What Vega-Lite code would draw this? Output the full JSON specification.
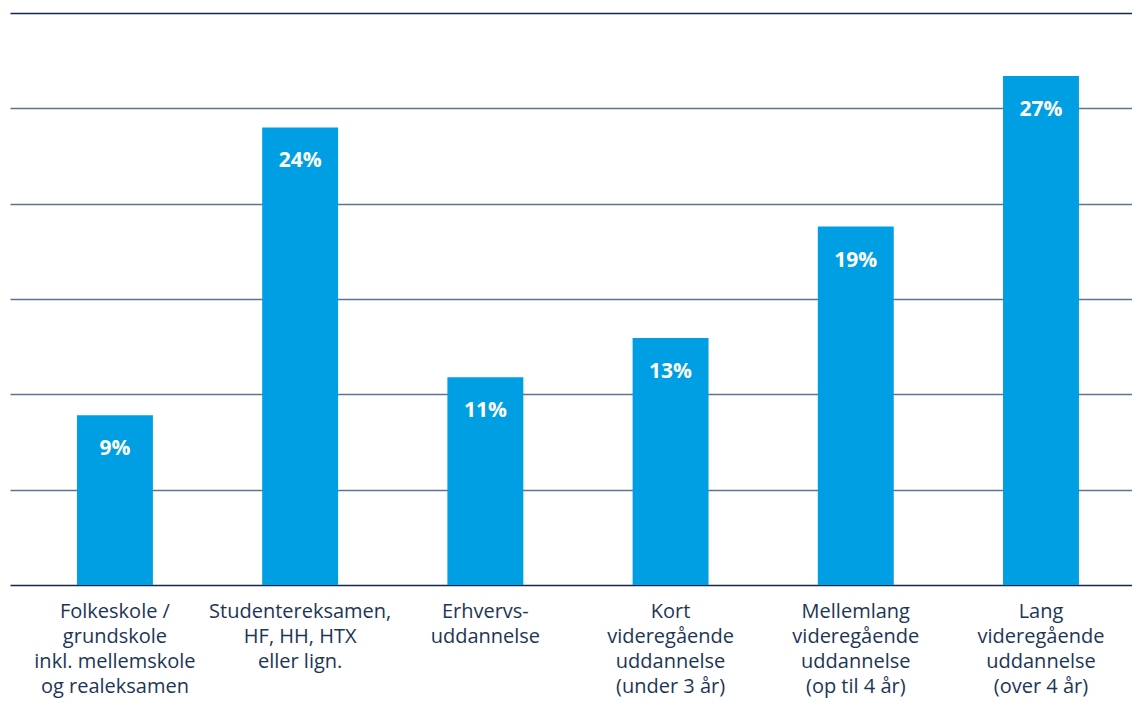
{
  "$schema": "https://vega.github.io/schema/vega-lite/v6.json",
  "autosize": {"type": "none"},
  "padding": {"left": 10, "top": 13, "right": 0, "bottom": 117},
  "width": 1122,
  "height": 572,
  "background": "white",
  "config": {"view": {"stroke": null}, "font": "Open Sans"},
  "data": {
    "values": [
      {"category": "Folkeskole /|grundskole|inkl. mellemskole|og realeksamen", "value": 8.9, "label": "9%"},
      {"category": "Studentereksamen,|HF, HH, HTX|eller lign.", "value": 24.0, "label": "24%"},
      {"category": "Erhvervs-|uddannelse", "value": 10.9, "label": "11%"},
      {"category": "Kort|videregående|uddannelse|(under 3 år)", "value": 12.95, "label": "13%"},
      {"category": "Mellemlang|videregående|uddannelse|(op til 4 år)", "value": 18.8, "label": "19%"},
      {"category": "Lang|videregående|uddannelse|(over 4 år)", "value": 26.7, "label": "27%"}
    ]
  },
  "encoding": {
    "x": {
      "field": "category",
      "type": "nominal",
      "sort": null,
      "scale": {"paddingInner": 0.59, "paddingOuter": 0.324, "align": 0.558},
      "axis": {
        "title": null,
        "domain": false,
        "ticks": false,
        "labelAngle": 0,
        "labelExpr": "split(datum.label, '|')",
        "labelFontSize": 20,
        "labelLineHeight": 25,
        "labelColor": "#1d3557",
        "labelPadding": 16,
        "labelBaseline": "top",
        "labelLimit": 0
      }
    },
    "y": {
      "field": "value",
      "type": "quantitative",
      "scale": {"domain": [0, 30]},
      "axis": {
        "title": null,
        "labels": false,
        "ticks": false,
        "domain": false,
        "values": [0, 5, 10, 15, 20, 25, 30],
        "grid": true,
        "gridColor": {"condition": {"test": "datum.value === 0 || datum.value === 30", "value": "#14284a"}, "value": "#5c7394"},
        "gridWidth": 1.3,
        "gridOpacity": 1
      }
    }
  },
  "layer": [
    {"mark": {"type": "bar", "color": "#009fe3"}},
    {
      "mark": {"type": "text", "color": "white", "fontSize": 21, "fontWeight": "bold", "baseline": "middle", "dy": 34},
      "encoding": {"text": {"field": "label"}}
    }
  ]
}
